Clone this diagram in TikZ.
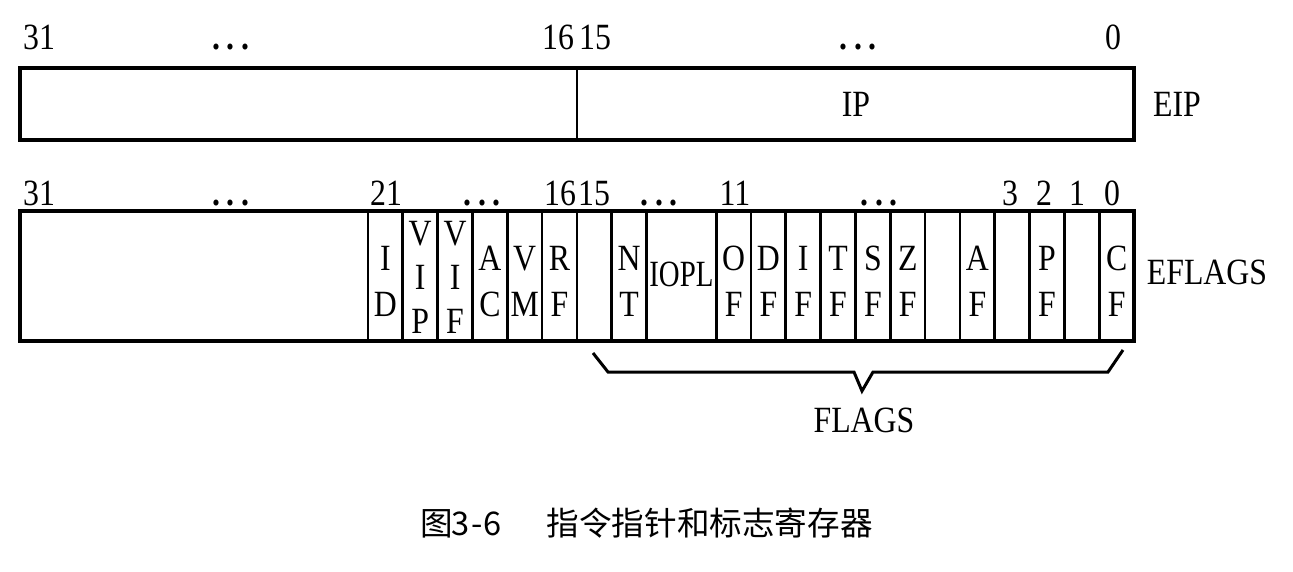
\documentclass[tikz,border=0pt]{standalone}
\usepackage{fontspec}
\setmainfont[FakeStretch=0.86]{Liberation Serif}
\newfontfamily\cjk{Noto Sans CJK SC}
\begin{document}
\begin{tikzpicture}[x=1pt,y=-1pt,
  every node/.style={inner sep=0pt, font=\fontsize{37}{46}\selectfont},
  outerline/.style={line width=3.5pt},
  innerline/.style={line width=2.7pt},
  bitnum/.style={anchor=base},
  cellchar/.style={align=center},
  tallchar/.style={align=center, font=\fontsize{37}{44}\selectfont},
  dots/.style={anchor=base, font=\fontsize{37}{46}\selectfont\bfseries}]
\useasboundingbox (0,0) rectangle (1293,571);
% ---------- EIP ----------
\draw[line width=2pt] (577,68) -- (577,140);
\draw[outerline] (20,68) rectangle (1134,140);
\node (ip) at (856,104) {IP};
\node (eip) at (1177,104) {EIP};
\node[bitnum] (e31) at (39,49) {31};
\node[dots] (ed1) at (231,49) {.\,.\,.};
\node[bitnum] (e16) at (558,49) {16};
\node[bitnum] (e15) at (595,49) {15};
\node[dots] (ed2) at (858,49) {.\,.\,.};
\node[bitnum] (e0) at (1113,49) {0};
% ---------- EFLAGS ----------
\foreach \k in {0,...,8,10,11,...,21}{
  \draw[innerline] ({368+\k*34.82},211) -- ({368+\k*34.82},341);
}
\draw[outerline] (20,211) rectangle (1134,341);
\foreach \k/\t in {0/{I\\D},3/{A\\C},4/{V\\M},5/{R\\F},7/{N\\T},
  10/{O\\F},11/{D\\F},12/{I\\F},13/{T\\F},14/{S\\F},15/{Z\\F},17/{A\\F},19/{P\\F},21/{C\\F}}{
  \node[cellchar] (c\k) at ({368+(\k+0.5)*34.82},281) {\t};
}
\node[tallchar] (c1) at ({368+1.5*34.82},277) {V\\I\\P};
\node[tallchar] (c2) at ({368+2.5*34.82},277) {V\\I\\F};
\node (iopl) at ({368+9*34.82},274) {\addfontfeature{FakeStretch=0.78}IOPL};
\node (eflags) at (1207,272) {EFLAGS};
\node[bitnum] (f31) at (39,205) {31};
\node[dots] (fd1) at (231,205) {.\,.\,.};
\node[bitnum] (f21) at (386,205) {21};
\node[dots] (fd2) at (482,205) {.\,.\,.};
\node[bitnum] (f16) at (560,205) {16};
\node[bitnum] (f15) at (594,205) {15};
\node[dots] (fd3) at (659,205) {.\,.\,.};
\node[bitnum] (f11) at (735,205) {11};
\node[dots] (fd4) at (879,205) {.\,.\,.};
\node[bitnum] (f3) at (1010,205) {3};
\node[bitnum] (f2) at (1044,205) {2};
\node[bitnum] (f1) at (1077,205) {1};
\node[bitnum] (f0) at (1112,205) {0};
% ---------- brace ----------
\draw[line width=3pt, line join=miter] (593,353) -- (608,372) -- (854,372) -- (862,391)
  -- (873,372) -- (1108,372) -- (1123,350);
\node (flags) at (864,420) {FLAGS};
% ---------- caption ----------
\node[anchor=base west, font=\cjk\fontsize{32.6}{36}\selectfont] (cap) at (420,535)
  {图\makebox[16pt]{3}\makebox[16pt]{-}\makebox[16pt]{6}\hspace{46pt}指令指针和标志寄存器};
\end{tikzpicture}
\end{document}
